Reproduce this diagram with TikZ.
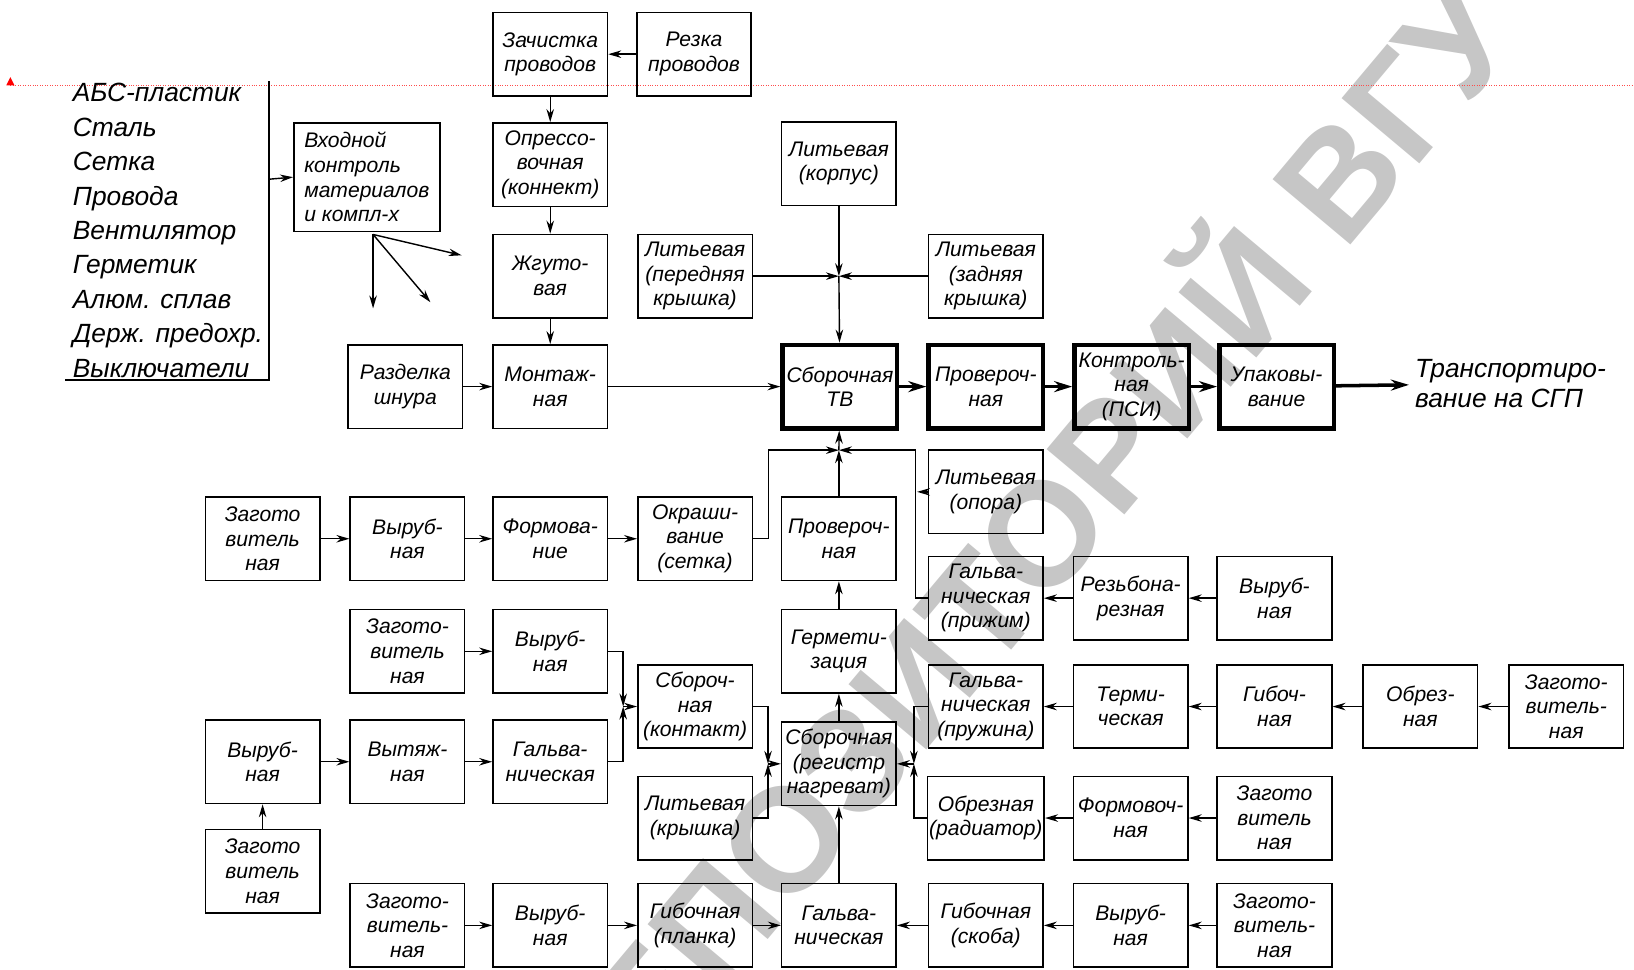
\documentclass[tikz,border=0pt]{standalone}
\usepackage{fontspec}
\setmainfont{Liberation Sans}
\usetikzlibrary{arrows.meta}
\tikzset{
  box/.style={draw, line width=0.9pt, minimum width=2.29cm, minimum height=1.67cm,
    inner sep=1pt, align=center, font=\itshape\fontsize{12}{14}\selectfont},
  mainbox/.style={box, line width=2.6pt},
  flow/.style={-{Stealth[length=2.6mm,width=1.5mm]}, line width=0.8pt},
  mainflow/.style={-{Stealth[length=3.6mm,width=2.2mm]}, line width=2pt},
}
\begin{document}
\begin{tikzpicture}[x=0.02084cm, y=-0.02084cm]
      \useasboundingbox (0,0) rectangle (1568,930);
      % marks on the scan
      \node[rotate=50, text=gray!45, font=\bfseries\fontsize{84}{84}\selectfont] (wm) at (968,528) {РЕПОЗИТОРИЙ ВГУ};
      \draw[red!70, densely dotted, line width=0.4pt] (10,82) -- (1568,82);
      \fill[red] (6,82) -- (14,82) -- (10,74) -- cycle;
      % materials
      \node[anchor=north west, align=left, font=\itshape\fontsize{15}{19.6}\selectfont]
        (mat) at (64,74) {АБС-пластик\\Сталь\\Сетка\\Провода\\Вентилятор\\Герметик\\Алюм. сплав\\Держ. предохр.\\Выключатели};
      \coordinate (bt) at (258,78);
      \coordinate (bb) at (258,365);
      \coordinate (bl) at (62,365);
      \coordinate (bm) at (258,172);
      \draw[line width=1.2pt] (bt) -- (bb) -- (bl);
      % boxes
      \node[box] (zach) at (528,52) {Зачистка\\проводов};
      \node[box] (rez) at (666,52) {Резка\\проводов};
      \node[box, minimum width=2.92cm, minimum height=2.17cm, align=left] (vhod) at (352,170) {Входной\\контроль\\материалов\\и компл-х};
      \node[box] (opr) at (528,158) {Опрессо-\\вочная\\(коннект)};
      \node[box] (zhg) at (528,265) {Жгуто-\\вая};
      \node[box] (razd) at (389,371) {Разделка\\шнура};
      \node[box] (mont) at (528,371) {Монтаж-\\ная};
      \node[box] (litk) at (805,157) {Литьевая\\(корпус)};
      \node[box] (litp) at (667,265) {Литьевая\\(передняя\\крышка)};
      \node[box] (litz) at (946,265) {Литьевая\\(задняя\\крышка)};
      \node[mainbox] (sbtv) at (806,371) {Сборочная\\ТВ};
      \node[mainbox] (prov) at (946,371) {Провероч-\\ная};
      \node[mainbox] (kontr) at (1086,371) {Контроль-\\ная\\(ПСИ)};
      \node[mainbox] (upak) at (1225,371) {Упаковы-\\вание};
      \node[anchor=west, align=left, font=\itshape\fontsize{15}{17}\selectfont] (trans) at (1352,368) {Транспортиро-\\вание на СГП};
      \node[box] (zag1) at (252,517) {Загото\\витель\\ная};
      \node[box] (vyr1) at (391,517) {Выруб-\\ная};
      \node[box] (form) at (528,517) {Формова-\\ние};
      \node[box] (okr) at (667,517) {Окраши-\\вание\\(сетка)};
      \node[box] (prov2) at (805,517) {Провероч-\\ная};
      \node[box] (litop) at (946,472) {Литьевая\\(опора)};
      \node[box] (galpr) at (946,574) {Гальва-\\ническая\\(прижим)};
      \node[box] (rezb) at (1085,574) {Резьбона-\\резная};
      \node[box] (vyr2) at (1223,574) {Выруб-\\ная};
      \node[box] (zag2) at (391,625) {Загото-\\витель\\ная};
      \node[box] (vyr3) at (528,625) {Выруб-\\ная};
      \node[box] (germ) at (805,625) {Гермети-\\зация};
      \node[box] (sbk) at (667,678) {Сбороч-\\ная\\(контакт)};
      \node[box] (galpru) at (946,678) {Гальва-\\ническая\\(пружина)};
      \node[box] (term) at (1085,678) {Терми-\\ческая};
      \node[box] (gib1) at (1223,678) {Гибоч-\\ная};
      \node[box] (obr) at (1363,678) {Обрез-\\ная};
      \node[box] (zag3) at (1503,678) {Загото-\\витель-\\ная};
      \node[box] (vyr4) at (252,731) {Выруб-\\ная};
      \node[box] (vyt) at (391,731) {Вытяж-\\ная};
      \node[box] (gal1) at (528,731) {Гальва-\\ническая};
      \node[box] (sbr) at (805,733) {Сборочная\\(регистр\\нагреват)};
      \node[box] (litkr) at (667,785) {Литьевая\\(крышка)};
      \node[box] (obrrad) at (946,785) {Обрезная\\(радиатор)};
      \node[box] (formov) at (1085,785) {Формовоч-\\ная};
      \node[box] (zag4) at (1223,785) {Загото\\витель\\ная};
      \node[box] (zag5) at (252,836) {Загото\\витель\\ная};
      \node[box] (zag6) at (391,888) {Загото-\\витель-\\ная};
      \node[box] (vyr5) at (528,888) {Выруб-\\ная};
      \node[box] (gibpl) at (667,888) {Гибочная\\(планка)};
      \node[box] (gal2) at (805,888) {Гальва-\\ническая};
      \node[box] (gibsk) at (946,888) {Гибочная\\(скоба)};
      \node[box] (vyr6) at (1085,888) {Выруб-\\ная};
      \node[box] (zag7) at (1223,888) {Загото-\\витель-\\ная};
      % junctions and free ends
      \coordinate (j1) at (805,265);
      \coordinate (j2) at (805,432);
      \coordinate (j3) at (598,678);
      \coordinate (j4) at (737,733);
      \coordinate (j5) at (877,733);
      \coordinate (c1) at (880,432);
      \coordinate (vs) at (358,225);
      \coordinate (a1) at (358,296);
      \coordinate (a2) at (413,290);
      \coordinate (a3) at (443,245);
      \begin{scope}[flow]
        \draw (bm) -- (vhod.west);
        \draw (vs) -- (a1);
        \draw (vs) -- (a2);
        \draw (vs) -- (a3);
        \draw (rez) -- (zach);
        \draw (zach) -- (opr);
        \draw (opr) -- (zhg);
        \draw (zhg) -- (mont);
        \draw (razd) -- (mont);
        \draw (mont) -- (sbtv);
        \draw (litk) -- (j1);
        \draw (litp) -- (j1);
        \draw (litz) -- (j1);
        \draw (j1) -- (sbtv);
        \draw (zag1) -- (vyr1);
        \draw (vyr1) -- (form);
        \draw (form) -- (okr);
        \draw (okr.east) -- ++(15,0) |- (j2);
        \draw (galpr.west) -- ++(-12,0) |- (j2);
        \draw (litop.west) -- (litop.west -| c1);
        \draw (prov2) -- (j2);
        \draw (j2) -- (sbtv);
        \draw (vyr2) -- (rezb);
        \draw (rezb) -- (galpr);
        \draw (zag2) -- (vyr3);
        \draw (vyr3.east) -| (j3);
        \draw (gal1.east) -| (j3);
        \draw (j3) -- (sbk);
        \draw (zag3) -- (obr);
        \draw (obr) -- (gib1);
        \draw (gib1) -- (term);
        \draw (term) -- (galpru);
        \draw (sbk.east) -| (j4);
        \draw (litkr.east) -| (j4);
        \draw (j4) -- (sbr);
        \draw (galpru.west) -| (j5);
        \draw (obrrad.west) -| (j5);
        \draw (j5) -- (sbr);
        \draw (zag4) -- (formov);
        \draw (formov) -- (obrrad);
        \draw (sbr) -- (germ);
        \draw (germ) -- (prov2);
        \draw (zag5) -- (vyr4);
        \draw (vyr4) -- (vyt);
        \draw (vyt) -- (gal1);
        \draw (zag6) -- (vyr5);
        \draw (vyr5) -- (gibpl);
        \draw (gibpl) -- (gal2);
        \draw (gal2) -- (sbr);
        \draw (zag7) -- (vyr6);
        \draw (vyr6) -- (gibsk);
        \draw (gibsk) -- (gal2);
      \end{scope}
      \begin{scope}[mainflow]
        \draw (sbtv) -- (prov);
        \draw (prov) -- (kontr);
        \draw (kontr) -- (upak);
        \draw (upak) -- (trans);
      \end{scope}
\end{tikzpicture}
\end{document}
